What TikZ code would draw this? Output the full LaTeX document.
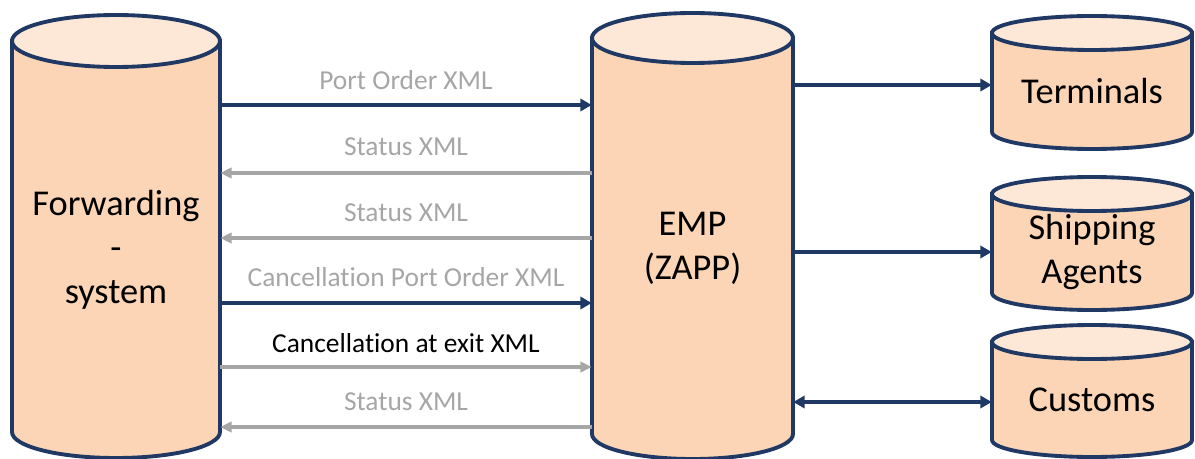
\documentclass[tikz,border=0pt]{standalone}
\usepackage{fontspec}
\setmainfont{Carlito}[Ligatures=NoCommon]
\usetikzlibrary{arrows.meta}
\definecolor{navy1}{RGB}{31, 56, 100}
\definecolor{drumbody}{RGB}{251, 213, 181}
\definecolor{drumlid}{RGB}{253, 232, 216}
\definecolor{msggray}{RGB}{166, 166, 166}

% name, cx, top cy, bottom cy, rx, ry, text
\newcommand{\drum}[7]{%
  \filldraw[drumline, fill=drumbody] (#2-#5,-#3) -- (#2-#5,-#4)
    arc[start angle=180, end angle=360, x radius=#5, y radius=#6] -- (#2+#5,-#3) -- cycle;
  \filldraw[drumline, fill=drumlid] (#2,-#3) ellipse[x radius=#5, y radius=#6];
  \node[drumtext, minimum width=#5*0.04cm] (#1) at (#2,{-(#3+#6+#4)/2}) {#7};
}

\begin{document}
\begin{tikzpicture}[
  x=0.02cm, y=0.02cm,
  drumline/.style={draw=navy1, line width=2.2pt},
  drumtext/.style={inner sep=0pt, align=center, font=\fontsize{20.7}{25}\selectfont},
  msg/.style={text=msggray, font=\fontsize{15.6}{18}\selectfont},
  toemp/.style={draw=navy1, line width=2pt, -{Triangle[length=6.5pt, width=7pt]}},
  back/.style={draw=msggray, line width=2pt, -{Triangle[length=6.5pt, width=6pt]}},
  both/.style={draw=navy1, line width=2pt, {Triangle[length=6.5pt, width=7pt]}-{Triangle[length=6.5pt, width=7pt]}}
]
  \useasboundingbox (0,0) rectangle (1195,-459);

  \drum{fwd}{116}{41}{432}{104}{26}{Forwarding\\-\\system}
  \drum{emp}{692.5}{38}{434}{100.5}{25}{EMP\\(ZAPP)}
  \drum{term}{1092}{33}{132}{100}{17}{Terminals}
  \drum{ship}{1092}{194}{293}{100}{17}{Shipping\\Agents}
  \drum{cust}{1092}{342}{440}{100}{17}{Customs}

  % messages between forwarding system and EMP
  \node[msg] (po) at (406,-80) {Port Order XML};
  \draw[toemp] (fwd.east |- 0,-105) -- (emp.west |- 0,-105);
  \node[msg] (st1) at (406,-147) {Status XML};
  \draw[back] (emp.west |- 0,-173) -- (fwd.east |- 0,-173);
  \node[msg] (st2) at (406,-213) {Status XML};
  \draw[back] (emp.west |- 0,-238) -- (fwd.east |- 0,-238);
  \node[msg] (cpo) at (406,-277) {Cancellation Port Order XML};
  \draw[toemp] (fwd.east |- 0,-303) -- (emp.west |- 0,-303);
  \node[msg, text=black] (cex) at (406,-343) {Cancellation at exit XML};
  \draw[back] (fwd.east |- 0,-367) -- (emp.west |- 0,-367);
  \node[msg] (st3) at (406,-402) {Status XML};
  \draw[back] (emp.west |- 0,-427) -- (fwd.east |- 0,-427);

  % EMP to the parties
  \draw[toemp] (emp.east |- 0,-85) -- (term.west |- 0,-85);
  \draw[toemp] (emp.east |- 0,-252) -- (ship.west |- 0,-252);
  \draw[both] (emp.east |- 0,-402) -- (cust.west |- 0,-402);
\end{tikzpicture}
\end{document}
